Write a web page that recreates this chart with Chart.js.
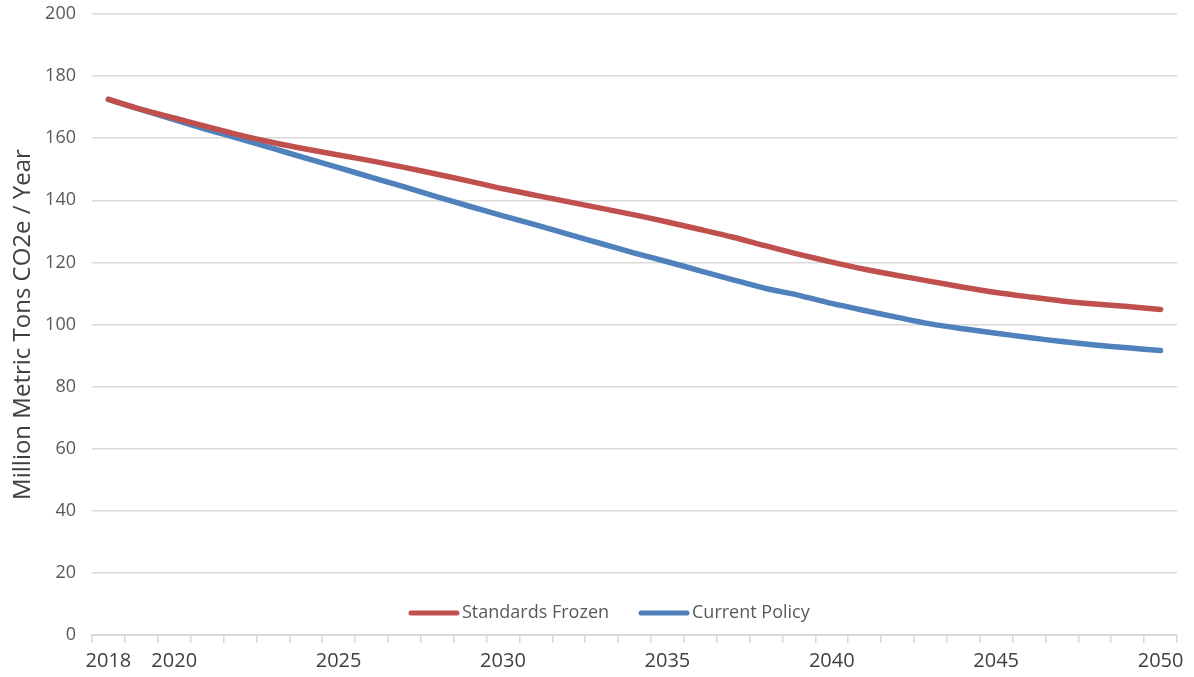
<!DOCTYPE html>
<html>
<head>
<meta charset="utf-8">
<script src="https://cdn.jsdelivr.net/npm/chart.js@4/dist/chart.umd.min.js"></script>
<style>
  html, body { margin: 0; padding: 0; background: #fff; }
  #wrap { width: 1194px; height: 677px; }
</style>
</head>
<body>
<div id="wrap"><canvas id="chart"></canvas></div>
<script>
// Years on the category axis
const years = [];
for (let y = 2018; y <= 2050; y++) years.push(String(y));
const labeledYears = ['2018', '2020', '2025', '2030', '2035', '2040', '2045', '2050'];

// Million metric tons CO2e / year
const standardsFrozen = [
  172.5, 169.3, 166.5, 163.7, 161.0, 158.6, 156.5, 154.6, 152.7, 150.6,
  148.4, 146.1, 143.7, 141.6, 139.5, 137.4, 135.3, 133.0, 130.6, 128.1,
  125.3, 122.6, 120.1, 117.8, 115.8, 113.9, 112.0, 110.3, 108.9, 107.6,
  106.6, 105.8, 104.8
];
const currentPolicy = [
  172.5, 169.2, 166.0, 162.8, 159.8, 156.7, 153.6, 150.5, 147.4, 144.3,
  141.1, 138.0, 135.0, 132.1, 129.0, 126.0, 123.0, 120.2, 117.3, 114.4,
  111.6, 109.4, 106.8, 104.5, 102.3, 100.2, 98.6, 97.2, 95.8, 94.5,
  93.4, 92.5, 91.6
];
const yTicks = [0, 20, 40, 60, 80, 100, 120, 140, 160, 180, 200];

const FONT = "'Open Sans', 'DejaVu Sans', sans-serif";
const gridColor = '#d9d9d9';

// Excel-style legend drawn inside the plot, near the bottom
const innerLegend = {
  id: 'innerLegend',
  afterDraw(chart) {
    const ctx = chart.ctx;
    const area = chart.chartArea;
    const y = area.bottom - 22;
    let x = area.left + 317;
    ctx.save();
    ctx.font = '18px ' + FONT;
    ctx.textBaseline = 'middle';
    chart.data.datasets.forEach(ds => {
      ctx.strokeStyle = ds.borderColor;
      ctx.lineWidth = 5;
      ctx.lineCap = 'round';
      ctx.beginPath();
      ctx.moveTo(x + 2, y);
      ctx.lineTo(x + 48, y);
      ctx.stroke();
      ctx.fillStyle = '#595959';
      ctx.fillText(ds.label, x + 53, y);
      x += 53 + ctx.measureText(ds.label).width + 30;
    });
    ctx.restore();
  }
};

new Chart(document.getElementById('chart'), {
  type: 'line',
  data: {
    labels: years,
    datasets: [
      {
        label: 'Standards Frozen',
        data: standardsFrozen,
        borderColor: '#c0504d',
        borderWidth: 5.5,
        pointRadius: 0,
        tension: 0.3,
        borderCapStyle: 'round'
      },
      {
        label: 'Current Policy',
        data: currentPolicy,
        borderColor: '#4f81bd',
        borderWidth: 5.5,
        pointRadius: 0,
        tension: 0.3,
        borderCapStyle: 'round'
      }
    ]
  },
  options: {
    responsive: true,
    maintainAspectRatio: false,
    animation: false,
    layout: { autoPadding: false, padding: { top: 14, right: 17, left: 0, bottom: 0 } },
    plugins: {
      legend: { display: false },
      tooltip: { enabled: false }
    },
    scales: {
      x: {
        offset: true,
        afterFit: s => { s.height = 42; s.paddingLeft = 0; s.paddingRight = 0; },
        grid: {
          offset: true,
          drawOnChartArea: false,
          drawTicks: true,
          tickLength: 8,
          color: gridColor,
          lineWidth: 1.5
        },
        border: { color: gridColor, width: 2 },
        ticks: {
          autoSkip: false,
          maxRotation: 0,
          padding: 6,
          color: '#404040',
          font: { family: FONT, size: 20 },
          callback: function (val) {
            const lbl = this.getLabelForValue(val);
            return labeledYears.includes(lbl) ? lbl : '';
          }
        }
      },
      y: {
        min: 0,
        max: 200,
        afterFit: s => { s.width = 92; s.paddingTop = 0; s.paddingBottom = 0; },
        afterBuildTicks: s => { s.ticks = yTicks.map(v => ({ value: v })); },
        grid: {
          color: gridColor,
          lineWidth: 1.5,
          drawTicks: false
        },
        border: { display: false },
        ticks: {
          padding: 16,
          color: '#595959',
          font: { family: FONT, size: 18 }
        },
        title: {
          display: true,
          text: 'Million Metric Tons CO2e / Year',
          color: '#404040',
          font: { family: FONT, size: 24 },
          padding: { top: 9, bottom: 0 }
        }
      }
    }
  },
  plugins: [innerLegend]
});
</script>
</body>
</html>
